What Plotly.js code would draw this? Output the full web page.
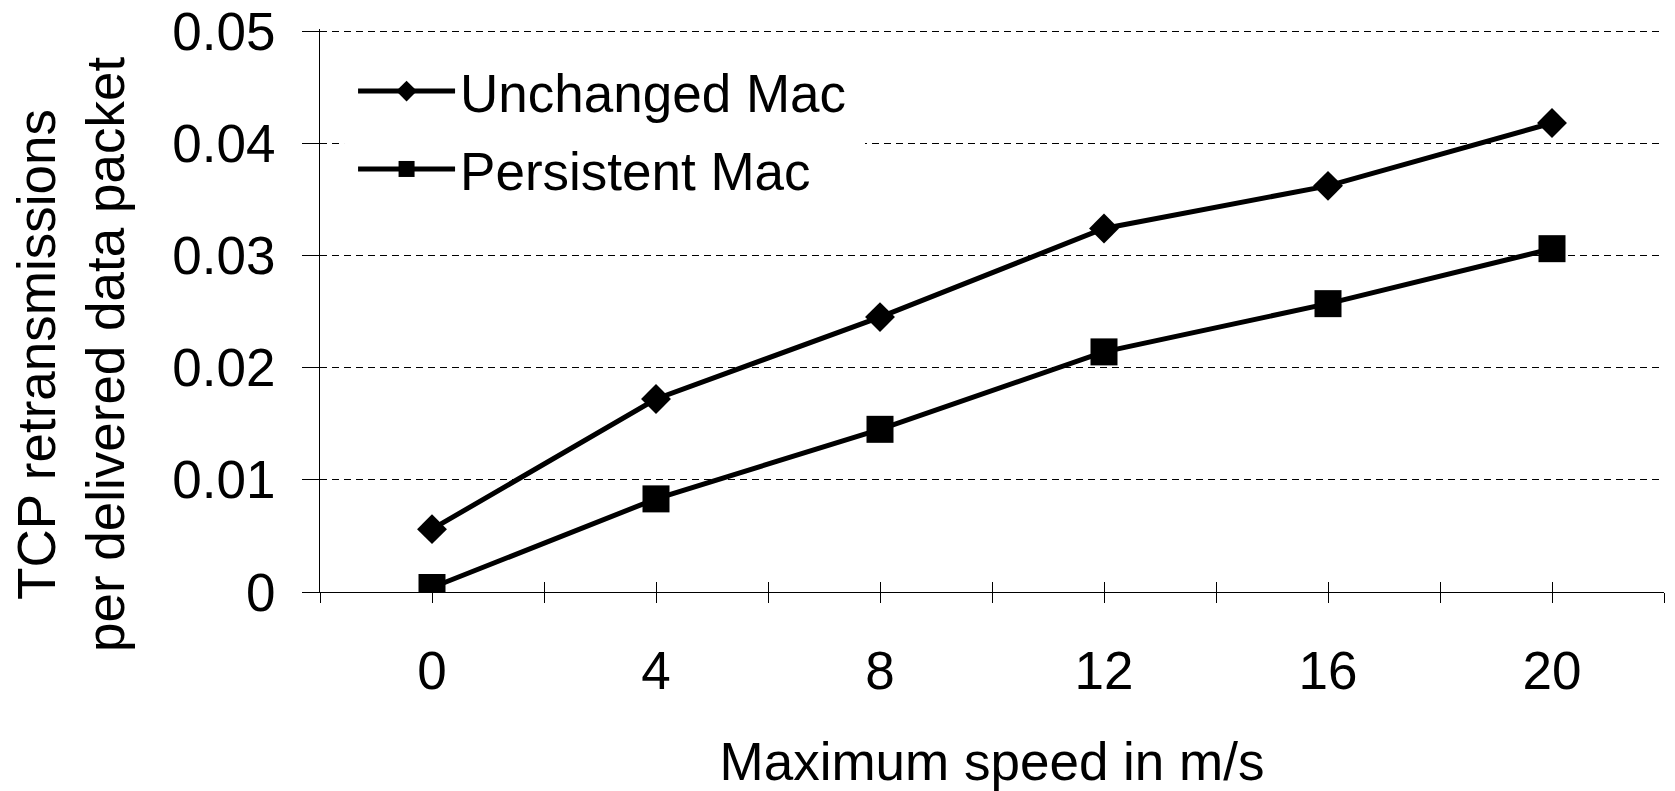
<!DOCTYPE html>
<html><head><meta charset="utf-8">
<script src="https://cdn.plot.ly/plotly-3.0.1.min.js"></script>
<style>html,body{margin:0;padding:0;background:#fff}</style>
</head><body><div id="chart" style="width:1675px;height:791px"></div>
<script>
const speeds = [0, 4, 8, 12, 16, 20];
const unchangedMac = [0.0056, 0.0172, 0.0245, 0.0324, 0.0362, 0.0418];
const persistentMac = [0.0004, 0.0083, 0.0145, 0.0214, 0.0257, 0.0306];
const seriesNames = ['Unchanged Mac', 'Persistent Mac'];
const xTickVals = [-2, 0, 2, 4, 6, 8, 10, 12, 14, 16, 18, 20, 22];
const xTickText = ['', '0', '', '4', '', '8', '', '12', '', '16', '', '20', ''];
const yTickVals = [0, 0.01, 0.02, 0.03, 0.04, 0.05];
const yTickText = ['0', '0.01', '0.02', '0.03', '0.04', '0.05'];
const xTitle = 'Maximum speed in m/s';
const yTitle = 'TCP retransmissions<br>per delivered data packet';

const FONT = 'Liberation Sans, Arial, sans-serif';
const X_RANGE = [-2, 22];
const Y_RANGE = [0, 0.05018];

const traces = [
  {x: speeds, y: unchangedMac, name: seriesNames[0], type: 'scatter', mode: 'lines+markers',
   legendgroup: 'a', line: {color: '#000', width: 5}, marker: {symbol: 'diamond', size: 23, color: '#000'}},
  {x: speeds, y: persistentMac, name: seriesNames[1], type: 'scatter', mode: 'lines+markers',
   legendgroup: 'b', line: {color: '#000', width: 5}, marker: {symbol: 'square', size: 27, color: '#000'}},
  {x: [], y: [], xaxis: 'x2', yaxis: 'y2', type: 'scatter', mode: 'markers', showlegend: false, hoverinfo: 'skip'}
];

const layout = {
  width: 1675, height: 791,
  margin: {l: 320, r: 11, t: 29, b: 199},
  paper_bgcolor: '#fff', plot_bgcolor: '#fff',
  font: {family: FONT, size: 53, color: '#000'},
  showlegend: true,
  legend: {x: 0.0246, y: 0.9625, xanchor: 'left', yanchor: 'top', bgcolor: '#fff', borderwidth: 0,
           font: {family: FONT, size: 53, color: '#000'}, itemwidth: 97,
           traceorder: 'grouped', tracegroupgap: 6},
  xaxis: {range: X_RANGE, tickmode: 'array', tickvals: xTickVals, ticktext: xTickText,
          ticks: 'outside', ticklen: 10, tickwidth: 1, tickcolor: '#000',
          showline: true, linecolor: '#000', linewidth: 1, showgrid: false, zeroline: false,
          ticklabelstandoff: 22, tickfont: {family: FONT, size: 53},
          title: {text: xTitle, font: {family: FONT, size: 53}, standoff: 56}, automargin: false},
  yaxis: {range: Y_RANGE, tickmode: 'array', tickvals: yTickVals, ticktext: yTickText,
          ticks: 'outside', ticklen: 17, tickwidth: 1, tickcolor: '#000',
          showline: true, linecolor: '#000', linewidth: 1, showgrid: true, gridcolor: '#000',
          gridwidth: 1, griddash: '7px,5px', zeroline: false,
          ticklabelstandoff: 16, tickfont: {family: FONT, size: 53}, automargin: false},
  xaxis2: {overlaying: 'x', anchor: 'y2', side: 'bottom', range: X_RANGE, tickmode: 'array',
           tickvals: xTickVals, ticks: 'inside', ticklen: 10, tickwidth: 1, tickcolor: '#000',
           showticklabels: false, showline: false, showgrid: false, zeroline: false},
  yaxis2: {overlaying: 'y', anchor: 'x2', side: 'left', range: Y_RANGE, tickmode: 'array',
           tickvals: yTickVals, ticks: 'inside', ticklen: 7, tickwidth: 1, tickcolor: '#000',
           showticklabels: false, showline: false, showgrid: false, zeroline: false},
  shapes: [{type: 'rect', xref: 'paper', yref: 'paper', x0: 0.0179, x1: 0.4055, y0: 0.673, y1: 0.955,
            fillcolor: '#fff', line: {width: 0}, layer: 'above'}],
  annotations: [{text: yTitle, textangle: -90, xref: 'paper', yref: 'paper',
                 x: -0.1857, y: 0.4216, xanchor: 'center', yanchor: 'middle', showarrow: false,
                 font: {family: FONT, size: 53, color: '#000'}}]
};

Plotly.newPlot('chart', traces, layout, {displayModeBar: false, staticPlot: true});
</script>
</body></html>
